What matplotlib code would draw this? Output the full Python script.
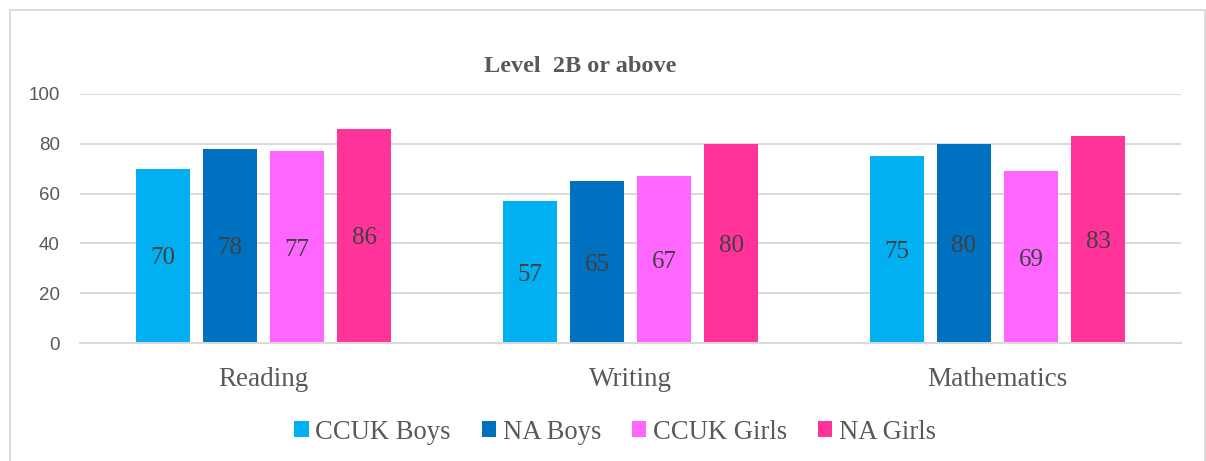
import numpy as np
import matplotlib
matplotlib.use("Agg")
import matplotlib.pyplot as plt
from matplotlib.patches import Patch, Rectangle

# chart data
subjects = ["Reading", "Writing", "Mathematics"]
series_names = ["CCUK Boys", "NA Boys", "CCUK Girls", "NA Girls"]
ccuk_boys = [70, 57, 75]
na_boys = [78, 65, 80]
ccuk_girls = [77, 67, 69]
na_girls = [86, 80, 83]
y_ticks = [0, 20, 40, 60, 80, 100]

series_values = [ccuk_boys, na_boys, ccuk_girls, na_girls]
colors = ["#00B0F0", "#0070C0", "#FF66FF", "#FF3399"]

text_grey = "#595959"
label_grey = "#404040"
grid_grey = "#D9D9D9"
serif = ["Liberation Serif", "DejaVu Serif"]

fig = plt.figure(figsize=(12.06, 4.61), dpi=100)
fig.patch.set_facecolor("white")

# outer chart border
fig.patches.append(
    Rectangle((9.5 / 1206, -0.05), 1195 / 1206, 1 - 10 / 461 + 0.05,
              transform=fig.transFigure, fill=False,
              edgecolor=grid_grey, linewidth=1.3)
)

ax = fig.add_axes([80 / 1206, (461 - 343) / 461, 1101 / 1206, 249 / 461])

x = np.arange(len(subjects))
step = 0.1826
width = 0.146
offsets = (np.arange(len(series_names)) - 1.5) * step

for name, vals, col, off in zip(series_names, series_values, colors, offsets):
    bars = ax.bar(x + off, vals, width=width, color=col, label=name, zorder=2)
    for b, v in zip(bars, vals):
        ax.text(b.get_x() + b.get_width() / 2, v / 2 - 1, f"{v}",
                ha="center", va="center", fontsize=18,
                family=serif, color=label_grey, zorder=3)

ax.set_xlim(-0.5, len(subjects) - 0.5)
ax.set_ylim(0, 100)
ax.set_yticks(y_ticks)
ax.set_yticklabels([str(t) for t in y_ticks], family=["Liberation Sans"],
                   fontsize=13.5, color=text_grey)
ax.set_xticks(x)
ax.set_xticklabels(subjects, family=serif, fontsize=19.5, color=text_grey)
ax.tick_params(axis="y", length=0, pad=14.5)
ax.tick_params(axis="x", length=0, pad=17)

ax.yaxis.grid(True, color=grid_grey, linewidth=1.4, zorder=0)
ax.set_axisbelow(True)
for s in ["top", "right", "left"]:
    ax.spines[s].set_visible(False)
ax.spines["bottom"].set_color(grid_grey)
ax.spines["bottom"].set_linewidth(1.4)

fig.text(580 / 1206, 1 - 66 / 461, "Level  2B or above", ha="center",
         va="center", fontsize=17.5, fontweight="bold", family=serif,
         color=text_grey)

handles = [Patch(facecolor=c, edgecolor="none") for c in colors]
leg = fig.legend(handles, series_names, loc="center",
                 bbox_to_anchor=(615 / 1206, 1 - 432 / 461), ncol=4,
                 frameon=False, handlelength=0.55, handleheight=0.55,
                 handletextpad=0.24, columnspacing=1.15,
                 prop={"family": serif, "size": 19.2})
for t in leg.get_texts():
    t.set_color(text_grey)

fig.savefig("out.png", dpi=100, facecolor="white")
